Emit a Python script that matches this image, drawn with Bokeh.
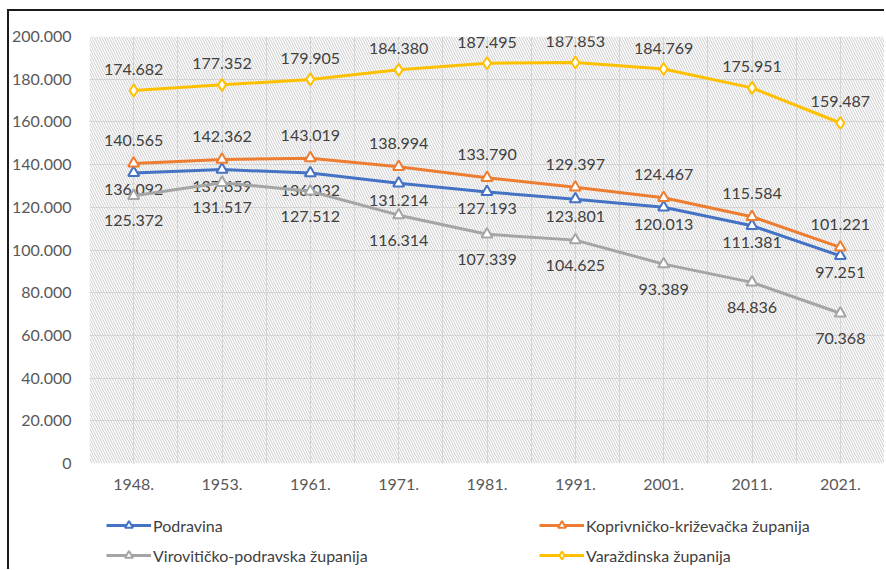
from bokeh.plotting import figure
from bokeh.layouts import column
from bokeh.models import (FixedTicker, BoxAnnotation, Legend, LegendItem, ColumnDataSource, Range1d)
from bokeh.core.properties import value
from bokeh.embed import file_html
from bokeh.resources import INLINE

years = ["1948.", "1953.", "1961.", "1971.", "1981.", "1991.", "2001.", "2011.", "2021."]
podravina = [136092, 137659, 136032, 131214, 127193, 123801, 120013, 111381, 97251]
koprivnicko = [140565, 142362, 143019, 138994, 133790, 129397, 124467, 115584, 101221]
viroviticko = [125372, 131517, 127512, 116314, 107339, 104625, 93389, 84836, 70368]
varazdinska = [174682, 177352, 179905, 184380, 187495, 187853, 184769, 175951, 159487]
y_ticks = [0, 20000, 40000, 60000, 80000, 100000, 120000, 140000, 160000, 180000, 200000]
y_tick_labels = ["0", "20.000", "40.000", "60.000", "80.000", "100.000", "120.000",
                 "140.000", "160.000", "180.000", "200.000"]

FONT = "Lato"
xs = list(range(len(years)))

p = figure(width=875, height=489, output_backend="svg", toolbar_location=None,
           x_range=Range1d(-0.5, len(years) - 0.5), y_range=Range1d(0, 200000),
           min_border_left=79, min_border_top=25, min_border_right=0, min_border_bottom=37)
p.outline_line_color = None
p.background_fill_color = "white"
p.border_fill_color = "white"

# hatched plot area
p.add_layout(BoxAnnotation(fill_alpha=0, line_color=None, hatch_pattern="\\",
                           hatch_color="#CCCCCC", hatch_scale=5, hatch_weight=1,
                           hatch_alpha=1, level="underlay"))

# axes
p.xaxis.ticker = FixedTicker(ticks=xs)
p.xaxis.major_label_overrides = {i: y for i, y in enumerate(years)}
p.yaxis.ticker = FixedTicker(ticks=y_ticks)
p.yaxis.major_label_overrides = {t: l for t, l in zip(y_ticks, y_tick_labels)}
for ax in (p.xaxis[0], p.yaxis[0]):
    ax.axis_line_color = None
    ax.major_tick_line_color = None
    ax.minor_tick_line_color = None
    ax.major_label_text_font = FONT
    ax.major_label_text_font_size = "16px"
    ax.major_label_text_color = "#595959"
p.xaxis.major_label_standoff = 9
p.yaxis.major_label_standoff = 12

# grids
p.xgrid.ticker = FixedTicker(ticks=[i * 0.5 - 0.5 for i in range(2 * len(years) + 1)])
p.ygrid.ticker = FixedTicker(ticks=y_ticks)
for g in (p.xgrid[0], p.ygrid[0]):
    g.grid_line_color = "#D9D9D9"
    g.grid_line_width = 1

series = [
    ("Podravina", podravina, "#4472C4", "triangle", 17),
    ("Koprivničko-križevačka županija", koprivnicko, "#ED7D31", "triangle", -23),
    ("Virovitičko-podravska županija", viroviticko, "#A5A5A5", "triangle", 25),
    ("Varaždinska županija", varazdinska, "#FFC000", "diamond", -21),
]

# legend figure (below the chart); its ranges keep the proxy glyphs out of view
lf = figure(width=875, height=69, output_backend="svg", toolbar_location=None,
            x_range=Range1d(-0.5, len(years) - 0.5), y_range=Range1d(-2, -1),
            min_border=0, outline_line_color=None, x_axis_type=None, y_axis_type=None)
lf.grid.visible = False
lf.background_fill_color = "white"
lf.border_fill_color = "white"

items = {}
for name, vals, color, marker, off in series:
    src = ColumnDataSource(dict(x=xs, y=vals,
                                lbl=[f"{v:,}".replace(",", ".") for v in vals]))
    msize = 11 if marker == "triangle" else 12
    p.line("x", "y", source=src, line_color=color, line_width=3)
    p.scatter("x", "y", source=src, marker=marker, size=msize,
              fill_color="white", line_color=color, line_width=2)
    p.text("x", "y", text="lbl", source=src, y_offset=off, text_font=value(FONT),
           text_font_size="16px", text_color="#404040", text_align="center",
           text_baseline="middle")
    # legend proxies in the legend figure, same style as the series
    lr = lf.line("x", "y", source=src, line_color=color, line_width=3)
    sr = lf.scatter("x", "y", source=src, marker=marker, size=msize,
                    fill_color="white", line_color=color, line_width=2)
    items[name] = LegendItem(label=name, renderers=[lr, sr])

legend_cols = [
    (["Podravina", "Virovitičko-podravska županija"], 17),
    (["Koprivničko-križevačka županija", "Varaždinska županija"], 450),
]
for names, xoff in legend_cols:
    lg = Legend(items=[items[n] for n in names], location=(xoff, 4),
                glyph_width=45, glyph_height=20, label_height=20,
                label_standoff=2, spacing=10, padding=0, margin=0,
                border_line_color=None, background_fill_alpha=0,
                label_text_font=FONT, label_text_font_size="16px",
                label_text_color="#404040")
    lf.add_layout(lg, "center")

root = column(p, lf, spacing=0, margin=(9, 0, 0, 7),
              styles={"border-left": "2px solid #1a1a1a", "border-top": "2px solid #1a1a1a"})

open("out.html", "w").write(file_html(root, INLINE))
